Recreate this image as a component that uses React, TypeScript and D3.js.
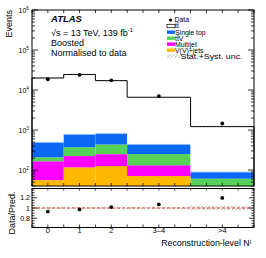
import React from "react";
import * as d3 from "d3";

const categories = ["0", "1", "2", "3–4", ">4"];
const binEdges = [-0.5, 0.5, 1.5, 2.5, 4.5, 6.5];
const labelPos = [0, 1, 2, 3.5, 5.5];
const vvjets = [56, 117, 126, 71, 15];
const multijet = [110, 107, 124, 61, 20];
const ttV = [43, 149, 187, 119, 26];
const singleTop = [281, 403, 378, 186, 28];
const ttbar = [19510, 23724, 16385, 6163, 1131];
const dataVals = [18600, 23800, 17500, 7060, 1460];
const relUnc = [0.022, 0.022, 0.022, 0.022, 0.045];
const yTickDecades = [2, 3, 4, 5, 6];
const ratioTicks = [0.8, 1, 1.2];

const series = [
  { name: "V(V)+jets", values: vvjets, color: "#ffb900" },
  { name: "Multijet", values: multijet, color: "#ff00ff" },
  { name: "ttV", values: ttV, color: "#55d257" },
  { name: "Single top", values: singleTop, color: "#0a68f5" },
  { name: "tt", values: ttbar, color: "#ffffff" },
];

const L = 32, R = 254, T = 10, B = 186, RT = 188.5, RB = 227.5;
const FONT = "'Liberation Sans', Arial, Helvetica, sans-serif";

export default function App() {
  const x = d3.scaleLinear().domain([-0.5, 6.5]).range([L, R]);
  const y = d3.scaleLog().domain([40, 1e6]).range([B, T]);
  const yr = d3.scaleLinear().domain([0.62, 1.38]).range([RB, RT]);
  const yc = (v: number) => Math.max(T, Math.min(B, y(Math.max(v, 1))));

  const n = categories.length;
  const totals = d3.range(n).map((i) => d3.sum(series, (s) => s.values[i]));
  const stacks: { x0: number; x1: number; y0: number; y1: number; color: string; key: string }[] = [];
  for (let i = 0; i < n; i++) {
    let cum = 0;
    series.forEach((s, k) => {
      const lo = cum;
      cum += s.values[i];
      stacks.push({ x0: x(binEdges[i]), x1: x(binEdges[i + 1]), y0: yc(Math.max(lo, 1)), y1: yc(cum), color: s.color, key: `${i}-${k}` });
    });
  }

  let step = "";
  for (let i = 0; i < n; i++) {
    const xa = x(binEdges[i]), xb = x(binEdges[i + 1]), yy = yc(totals[i]);
    step += (i === 0 ? `M${xa},${B}L${xa},${yy}` : `L${xa},${yy}`) + `L${xb},${yy}`;
  }
  step += `L${x(binEdges[n])},${B}`;

  const logTicks: { v: number; major: boolean }[] = [];
  for (let d = 1; d <= 6; d++) {
    for (let m = 1; m <= 9; m++) {
      const v = m * Math.pow(10, d);
      if (v >= 40 && v <= 1e6) logTicks.push({ v, major: m === 1 });
    }
  }
  const xTicks = d3.range(-0.5, 6.51, 0.5);
  const rTicks = d3.range(0.65, 1.36, 0.05);

  const legendRows = [
    { label: "tt̄", y: 26, color: "#ffffff", stroke: "#000" },
    { label: "Single top", y: 32.2, color: "#0a68f5" },
    { label: "tt̄V", y: 38.2, color: "#55d257" },
    { label: "Multijet", y: 44.2, color: "#ff00ff" },
    { label: "V(V)+jets", y: 50.2, color: "#ffb900" },
  ];
  const LF = 6.9;

  return (
    <svg width={266} height={258} style={{ position: "absolute", left: 0, top: 0 }} fontFamily={FONT}>
      <defs>
        <pattern id="hatch" patternUnits="userSpaceOnUse" width={2.6} height={2.6} patternTransform="rotate(45)">
          <line x1={0} y1={0} x2={0} y2={2.6} stroke="#555" strokeWidth={0.7} />
        </pattern>
      </defs>
      <rect width={266} height={258} fill="#fff" />
      {stacks.map((s) => (
        <rect key={s.key} x={s.x0} y={s.y1} width={s.x1 - s.x0} height={Math.max(0, s.y0 - s.y1)} fill={s.color} />
      ))}
      {d3.range(n).map((i) => {
        const top = vvjets[i] + multijet[i] + ttV[i] + singleTop[i];
        return <line key={"bl" + i} x1={x(binEdges[i])} x2={x(binEdges[i + 1])} y1={yc(top)} y2={yc(top)} stroke="#7fb6ff" strokeWidth={0.8} />;
      })}
      <path d={step} fill="none" stroke="#000" strokeWidth={1} />
      {d3.range(n).map((i) => (
        <rect key={"u" + i} x={x(binEdges[i])} y={yc(totals[i] * (1 + relUnc[i]))} width={x(binEdges[i + 1]) - x(binEdges[i])}
          height={Math.max(1.2, yc(totals[i] * (1 - relUnc[i])) - yc(totals[i] * (1 + relUnc[i])))} fill="url(#hatch)" />
      ))}
      {dataVals.map((v, i) => (
        <circle key={"d" + i} cx={x(labelPos[i])} cy={y(v)} r={1.9} fill="#000" />
      ))}
      <rect x={L} y={T} width={R - L} height={B - T} fill="none" stroke="#000" strokeWidth={1} />
      {logTicks.map((t, i) => (
        <g key={"lt" + i}>
          <line x1={L} x2={L + (t.major ? 6 : 3)} y1={y(t.v)} y2={y(t.v)} stroke="#000" strokeWidth={0.8} />
          <line x1={R} x2={R - (t.major ? 6 : 3)} y1={y(t.v)} y2={y(t.v)} stroke="#000" strokeWidth={0.8} />
        </g>
      ))}
      {yTickDecades.map((d) => (
        <text key={"yl" + d} x={L - 3} y={y(Math.pow(10, d)) + 2.5} fontSize={7} textAnchor="end">
          10<tspan fontSize={4.8} dy={-3}>{d}</tspan>
        </text>
      ))}
      {xTicks.map((t, i) => (
        <g key={"xt" + i}>
          <line x1={x(t)} x2={x(t)} y1={B} y2={B - 3} stroke="#000" strokeWidth={0.8} />
          <line x1={x(t)} x2={x(t)} y1={T} y2={T + 3} stroke="#000" strokeWidth={0.8} />
          <line x1={x(t)} x2={x(t)} y1={RB} y2={RB - 3} stroke="#000" strokeWidth={0.8} />
          <line x1={x(t)} x2={x(t)} y1={RT} y2={RT + 2} stroke="#000" strokeWidth={0.8} />
        </g>
      ))}
      <text transform={`translate(12,${T}) rotate(-90)`} fontSize={9} textAnchor="end">Events</text>

      <text x={51} y={22} fontSize={9.5} fontWeight="bold" fontStyle="italic">ATLAS</text>
      <text x={51} y={35.5} fontSize={9}>√s = 13 TeV, 139 fb<tspan fontSize={6} dy={-3.5}>-1</tspan></text>
      <text x={51} y={46} fontSize={9}>Boosted</text>
      <text x={51} y={55.5} fontSize={9}>Normalised to data</text>

      <circle cx={170.5} cy={20} r={1.6} fill="#000" />
      <text x={174.5} y={22.3} fontSize={LF}>Data</text>
      {legendRows.map((r, i) => (
        <g key={"lg" + i}>
          <rect x={167} y={r.y - 1.7} width={8} height={3.4} fill={r.color} stroke={r.stroke || "none"} strokeWidth={0.7} />
          <text x={175} y={r.y + 2.3} fontSize={LF}>{r.label}</text>
        </g>
      ))}
      <rect x={167} y={54.3} width={13} height={3.6} fill="url(#hatch)" />
      <text x={180.5} y={58.7} fontSize={LF} textLength={62} lengthAdjust="spacingAndGlyphs">Stat.+Syst. unc.</text>

      {d3.range(n).map((i) => (
        <rect key={"ru" + i} x={x(binEdges[i])} y={yr(1 + relUnc[i])} width={x(binEdges[i + 1]) - x(binEdges[i])}
          height={yr(1 - relUnc[i]) - yr(1 + relUnc[i])} fill="url(#hatch)" />
      ))}
      <line x1={L} x2={R} y1={yr(1)} y2={yr(1)} stroke="#e0201a" strokeWidth={0.9} strokeDasharray="3,2" />
      {dataVals.map((v, i) => (
        <circle key={"rd" + i} cx={x(labelPos[i])} cy={yr(v / totals[i])} r={1.9} fill="#000" />
      ))}
      <rect x={L} y={RT} width={R - L} height={RB - RT} fill="none" stroke="#000" strokeWidth={1} />
      {rTicks.map((t, i) => {
        const major = ratioTicks.some((m) => Math.abs(m - t) < 1e-6);
        return (
          <g key={"rt" + i}>
            <line x1={L} x2={L + (major ? 5 : 2.5)} y1={yr(t)} y2={yr(t)} stroke="#000" strokeWidth={0.8} />
            <line x1={R} x2={R - (major ? 5 : 2.5)} y1={yr(t)} y2={yr(t)} stroke="#000" strokeWidth={0.8} />
          </g>
        );
      })}
      {ratioTicks.map((t) => (
        <text key={"rl" + t} x={L - 2} y={yr(t) + 2.5} fontSize={7} textAnchor="end">{String(t)}</text>
      ))}
      <text transform={`translate(15,${RT + 3}) rotate(-90)`} fontSize={9} textAnchor="end">Data/Pred.</text>
      {categories.map((c, i) => (
        <text key={"xl" + i} x={x(labelPos[i])} y={232.5} fontSize={7.5} textAnchor="middle">{c}</text>
      ))}
      <text x={251} y={246} fontSize={8.8} textAnchor="end">Reconstruction-level N<tspan fontSize={6} dy={-3.5}>j</tspan></text>
    </svg>
  );
}
